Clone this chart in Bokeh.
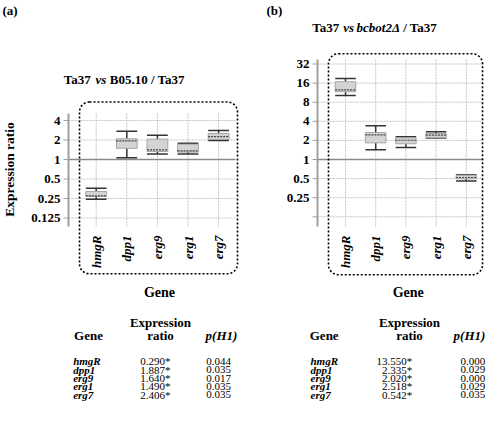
import math
from bokeh.plotting import figure
from bokeh.models import ColumnDataSource, Range1d, LogScale, BoxAnnotation
from bokeh.core.properties import value
from bokeh.embed import file_html
from bokeh.resources import INLINE

genes = ["hmgR", "dpp1", "erg9", "erg1", "erg7"]

# Panel (a): Ta37 vs B05.10 / Ta37
a_low = [0.244, 1.06, 1.22, 1.22, 1.96]
a_q1 = [0.270, 1.49, 1.33, 1.30, 2.04]
a_med = [0.275, 1.94, 1.41, 1.36, 2.26]
a_q3 = [0.320, 2.09, 2.06, 1.72, 2.52]
a_high = [0.360, 2.73, 2.37, 1.78, 2.80]
a_ratio = [0.290, 1.887, 1.640, 1.490, 2.406]
a_p = [0.044, 0.035, 0.017, 0.035, 0.035]
a_ticks = [0.125, 0.25, 0.5, 1, 2, 4]
a_tick_labels = ["0.125", "0.25", "0.5", "1", "2", "4"]

# Panel (b): Ta37 vs bcbot2Δ / Ta37
b_low = [10.2, 1.42, 1.55, 2.18, 0.460]
b_q1 = [11.7, 1.83, 1.77, 2.20, 0.496]
b_med = [12.5, 2.45, 2.01, 2.42, 0.520]
b_q3 = [16.8, 2.66, 2.20, 2.57, 0.566]
b_high = [18.9, 3.39, 2.28, 2.73, 0.574]
b_ratio = [13.550, 2.335, 2.020, 2.518, 0.542]
b_p = [0.000, 0.029, 0.000, 0.029, 0.035]
b_ticks = [0.125, 0.25, 0.5, 1, 2, 4, 8, 16, 32]
b_tick_labels = ["", "0.25", "0.5", "1", "2", "4", "8", "16", "32"]

FONT = value("Liberation Serif")
BOXW = 0.68
GRID = "#c4c4c4"
AXIS = "#a0a0a0"
WHISK = "#333333"
SB = -14  # horizontal shift of panel (b) so it fits the canvas

# panel geometry in canvas pixels (layout only)
geo_a = dict(cat0=95.7, ppc=30.6, axis=68, right=235, one=159, ppd=19.5, top=113, bottom=226)
geo_b = dict(cat0=359.0 + SB, ppc=30.2, axis=331 + SB, right=497 + SB, one=159, ppd=19.1,
             top=59, bottom=226)

W, H = 486, 412
X0, X1, Y0, Y1 = 0, W, 0, H

p = figure(width=W, height=H, x_range=Range1d(X0, X1), y_range=Range1d(Y1, Y0),
           x_axis_location=None, y_axis_location=None, output_backend="svg",
           toolbar_location=None, min_border=0)
p.outline_line_color = None
p.background_fill_color = "white"
p.border_fill_color = "white"
p.grid.visible = False


def ranges(geo):
    ux = lambda px: (px - geo["cat0"]) / geo["ppc"]
    ly = lambda py: (geo["one"] - py) / geo["ppd"]
    return (Range1d(ux(X0), ux(X1)), Range1d(2 ** ly(Y1), 2 ** ly(Y0)),
            (ux(geo["axis"]), ux(geo["right"])), (2 ** ly(geo["bottom"]), 2 ** ly(geo["top"])))


ax_r, ay_r, a_xlim, a_ylim = ranges(geo_a)
bx_r, by_r, b_xlim, b_ylim = ranges(geo_b)
p.extra_x_ranges = {"ax": ax_r, "bx": bx_r}
p.extra_y_ranges = {"ay": ay_r, "by": by_r}
p.extra_y_scales = {"ay": LogScale(), "by": LogScale()}


def draw_panel(xr, yr, xlim, ylim, low, q1, med, q3, high, ticks, tick_labels):
    kw = dict(x_range_name=xr, y_range_name=yr)
    xs = list(range(len(genes)))
    src = ColumnDataSource(dict(
        x=xs, xl=[v - BOXW / 2 for v in xs], xr=[v + BOXW / 2 for v in xs],
        low=low, q1=q1, med=med, q3=q3, high=high))
    # grid
    p.segment(x0=xlim[0], x1=xlim[1], y0=ticks, y1=ticks, line_color=GRID,
              line_width=1, line_dash="2 1", **kw)
    p.segment(x0=xs, x1=xs, y0=ylim[0], y1=ylim[1], line_color=GRID,
              line_width=1, line_dash="2 1", **kw)
    # reference line at ratio 1
    p.segment(x0=[xlim[0]], x1=[xlim[1]], y0=[1], y1=[1], line_color="#8a8a8a",
              line_width=1.5, **kw)
    # y axis
    p.segment(x0=[xlim[0]], x1=[xlim[0]], y0=[ylim[0]], y1=[ylim[1]],
              line_color=AXIS, line_width=2, **kw)
    p.ray(x=xlim[0], y=ticks, length=5, length_units="screen", angle=math.pi,
          line_color=AXIS, line_width=1, **kw)
    p.text(x=xlim[0], y=ticks, text=tick_labels, x_offset=-8, text_align="right",
           text_baseline="middle", text_font=FONT, text_font_size="13px",
           text_font_style="bold", text_color="black", **kw)
    # category labels
    p.text(x=xs, y=ylim[0], text=genes, angle=math.pi / 2, y_offset=9,
           text_align="right", text_baseline="middle", text_font=FONT,
           text_font_size="13px", text_font_style="bold italic",
           text_color="black", **kw)
    # box plots
    p.segment(x0="x", y0="q3", x1="x", y1="high", line_color=WHISK, line_width=1.5, source=src, **kw)
    p.segment(x0="x", y0="low", x1="x", y1="q1", line_color=WHISK, line_width=1.5, source=src, **kw)
    p.segment(x0="xl", y0="high", x1="xr", y1="high", line_color=WHISK, line_width=1.5, source=src, **kw)
    p.segment(x0="xl", y0="low", x1="xr", y1="low", line_color=WHISK, line_width=1.5, source=src, **kw)
    p.vbar(x="x", width=BOXW, bottom="q1", top="q3", fill_color="#d4d4d4",
           line_color="#a6a6a6", line_width=1, source=src, **kw)
    p.segment(x0="xl", y0="med", x1="xr", y1="med", line_color="#444444",
              line_width=1.2, line_dash="2 1", source=src, **kw)


draw_panel("ax", "ay", a_xlim, a_ylim, a_low, a_q1, a_med, a_q3, a_high, a_ticks, a_tick_labels)
draw_panel("bx", "by", b_xlim, b_ylim, b_low, b_q1, b_med, b_q3, b_high, b_ticks, b_tick_labels)

# dashed rounded frames
for l, r, t, b in [(79, 237, 101.5, 273.3), (342 + SB, 496 + SB, 53.3, 274.3)]:
    p.add_layout(BoxAnnotation(left=l, right=r, top=t, bottom=b, fill_color=None,
                               fill_alpha=0, line_color="black", line_alpha=1,
                               line_width=1.6, line_dash="2 2", border_radius=10))


def txt(x, y, t, size="13px", style="bold", align="left", baseline="middle", angle=0.0):
    p.text(x=[x], y=[y], text=[t], text_font=FONT, text_font_size=size,
           text_font_style=style, text_align=align, text_baseline=baseline,
           angle=angle, text_color="black")


# panel labels and titles
txt(2, 2.5, "(a)", baseline="top")
txt(280 + SB, 2.5, "(b)", baseline="top")
txt(63.3, 79, "Ta37")
txt(95, 79, "vs", style="bold italic")
txt(109.3, 79, "B05.10 / Ta37")
txt(325.7 + SB, 27, "Ta37")
txt(356.7 + SB, 27, "vs", style="bold italic")
txt(370 + SB, 27, "bcbot2Δ", style="bold italic")
txt(416.7 + SB, 27, "/ Ta37")
txt(9, 169, "Expression ratio", size="13.5px", align="center", angle=math.pi / 2)
txt(159, 291.7, "Gene", size="14px", align="center")
txt(421.7 + SB, 291.7, "Gene", size="14px", align="center")


def table(gx, hx_gene, hx_expr, vx, px, hx_p, ratios, pvals):
    txt(hx_gene, 335, "Gene", align="center")
    txt(hx_expr, 321.7, "Expression", align="center")
    txt(hx_expr, 335, "ratio", align="center")
    txt(hx_p, 335, "p(H1)", style="bold italic", align="center")
    ys = [360.7 + 8.4 * i for i in range(len(genes))]
    common = dict(y=ys, text_font=FONT, text_font_size="11px",
                  text_baseline="middle", text_color="black")
    p.text(x=gx, text=genes, text_font_style="bold italic", text_align="left", **common)
    p.text(x=vx, text=[f"{v:.3f}*" for v in ratios], text_font_style="normal",
           text_align="right", **common)
    p.text(x=px, text=[f"{v:.3f}" for v in pvals], text_font_style="normal",
           text_align="left", **common)


table(72.7, 88, 160, 170, 205.7, 221, a_ratio, a_p)
table(324 + SB, 337.7 + SB, 423 + SB, 425.7 + SB, 474 + SB, 469, b_ratio, b_p)

open("out.html", "w").write(file_html(p, INLINE))
